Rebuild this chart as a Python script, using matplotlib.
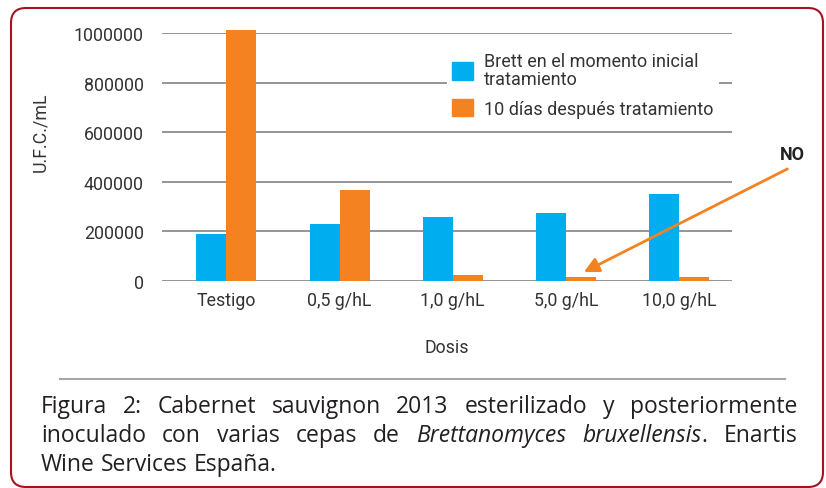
#!/usr/bin/env python3
"""Brett counts per dose of treatment, initial vs 10 days later."""

import matplotlib

matplotlib.use("Agg")
import matplotlib.pyplot as plt
import numpy as np
from matplotlib.patches import FancyBboxPatch, Patch
from matplotlib.transforms import IdentityTransform

# data
categories = ["Testigo", "0,5 g/hL", "1,0 g/hL", "5,0 g/hL", "10,0 g/hL"]
brett_inicial = [190000, 230000, 258000, 274000, 351000]
dias_10 = [1012000, 367000, 24000, 16000, 16000]
series_labels = ["Brett en el momento inicial\ntratamiento", "10 días después tratamiento"]
y_ticks = [0, 200000, 400000, 600000, 800000, 1000000]
caption_lines = [
    "Figura 2: Cabernet sauvignon 2013 esterilizado y posteriormente",
    "inoculado con varias cepas de _Brettanomyces_ _bruxellensis_. Enartis",
    "Wine Services España.",
]

BLUE = "#00aeef"
ORANGE = "#f58220"
TEXT = "#333333"
W, H = 826, 489

plt.rcParams["font.family"] = ["Roboto", "DejaVu Sans"]

fig = plt.figure(figsize=(W / 100, H / 100), dpi=100)
px = IdentityTransform()

# outer frame
frame = FancyBboxPatch((11, 1), 812, 479, boxstyle="round,pad=0,rounding_size=15",
                       transform=px, fill=False, edgecolor="#a3141e", linewidth=1.5)
fig.patches.append(frame)

ax = fig.add_axes([162 / W, (H - 282) / H, 570 / W, 248 / H])
x = np.arange(len(categories))
width = 0.265
ax.bar(x - width / 2, brett_inicial, width, color=BLUE, clip_on=False, zorder=2)
ax.bar(x + width / 2, dias_10, width, color=ORANGE, clip_on=False, zorder=2)

ax.set_xlim(-0.57, 4.47)
ax.set_ylim(0, 1000000)
ax.set_yticks(y_ticks)
ax.set_yticklabels([str(v) for v in y_ticks])
ax.set_xticks(x)
ax.set_xticklabels(categories)
ax.tick_params(axis="both", length=0, labelsize=12.8, colors=TEXT)
ax.tick_params(axis="y", pad=13)
ax.tick_params(axis="x", pad=7)
for spine in ax.spines.values():
    spine.set_visible(False)
ax.yaxis.grid(True, color="#8c8c8c", linewidth=1.3)
ax.set_axisbelow(True)

ax.set_xlabel("Dosis", fontsize=12.8, color=TEXT, labelpad=21)
fig.text(40, H - 132, "U.F.C./mL", transform=px, rotation=90, ha="center", va="center",
         fontsize=12.8, color=TEXT)

handles = [Patch(color=BLUE), Patch(color=ORANGE)]
leg = ax.legend(handles, series_labels, loc="upper left",
                bbox_to_anchor=(447 / W, 1 - 48 / H), bbox_transform=fig.transFigure,
                frameon=True, facecolor="white", edgecolor="none", framealpha=1,
                fancybox=False, fontsize=13, handlelength=1.15, handleheight=1.15,
                handletextpad=0.6, borderpad=0.3, labelspacing=0.6, borderaxespad=0)
for t in leg.get_texts():
    t.set_color(TEXT)
    t.set_linespacing(0.95)

# NO annotation with arrow to the 5,0 g/hL bar
ax.annotate("", xy=(3.16, 36000), xytext=(4.96, 452000),
            arrowprops=dict(arrowstyle="-|>,head_length=0.9,head_width=0.45",
                            color=ORANGE, lw=2, shrinkA=0, shrinkB=0),
            annotation_clip=False)
ax.text(5.0, 512000, "NO", ha="center", va="center", fontsize=13, fontweight="bold",
        color="#222222", clip_on=False)

# separator line above caption
fig.add_artist(plt.Line2D([60, 785], [H - 380, H - 380], transform=px,
                          color="#a6a6a6", linewidth=1.5))

# justified caption
renderer = fig.canvas.get_renderer()
x0, x1 = 41, 797
baselines = [413, 442, 471]
cap_font = dict(fontsize=16.5, color="#231f20", family=["Open Sans", "DejaVu Sans"],
                va="baseline", ha="left")
for i, line in enumerate(caption_lines):
    words = []
    for word in line.split(" "):
        parts = word.split("_")
        segs = []
        for k, p in enumerate(parts):
            if p:
                segs.append((p, "italic" if k % 2 == 1 else "normal"))
        texts = []
        wsum = 0
        for s, style in segs:
            t = fig.text(0, 0, s, transform=px, style=style, **cap_font)
            wsum += t.get_window_extent(renderer).width
            texts.append(t)
        words.append((texts, wsum))
    total = sum(w for _, w in words)
    if i < len(caption_lines) - 1:
        gap = (x1 - x0 - total) / (len(words) - 1)
    else:
        gap = 6
    cx = x0
    for texts, wsum in words:
        for t in texts:
            t.set_position((cx, H - baselines[i]))
            cx += t.get_window_extent(renderer).width
        cx += gap

fig.savefig("out.png", dpi=100)
